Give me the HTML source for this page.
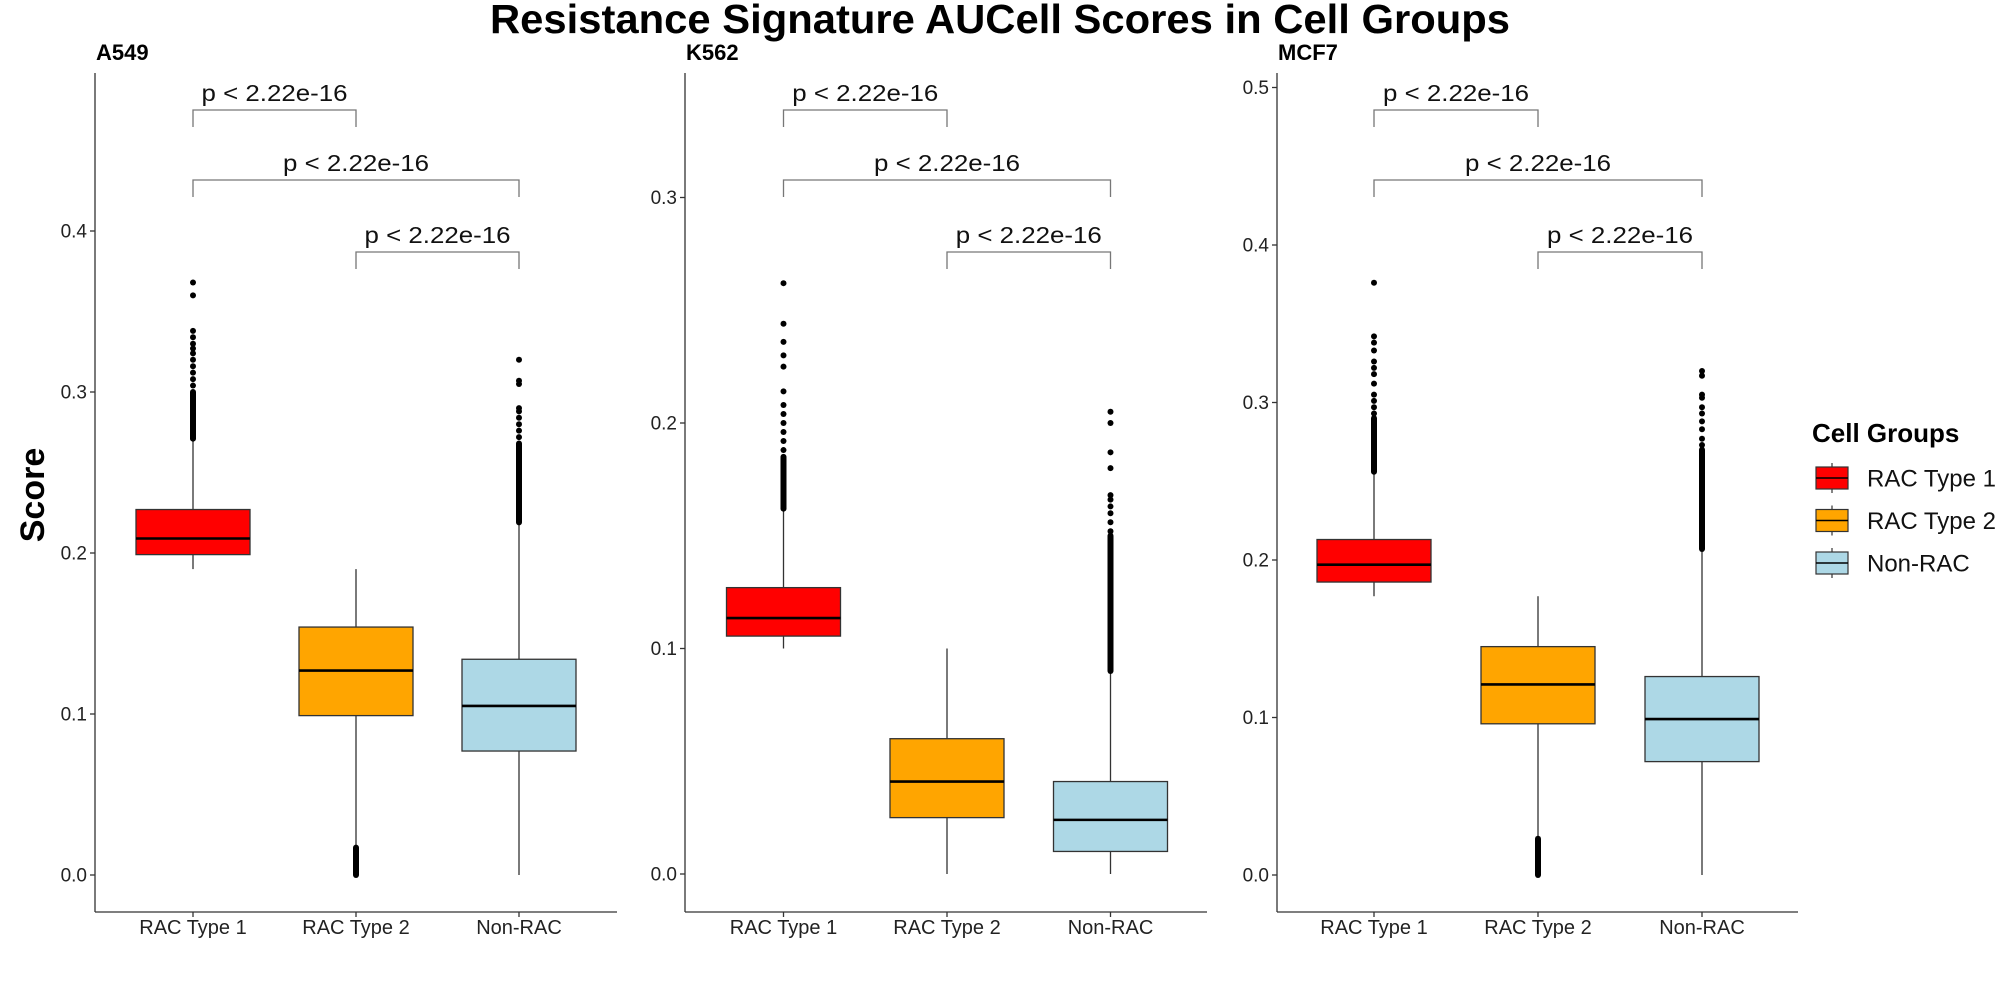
<!DOCTYPE html>
<html><head><meta charset="utf-8">
<style>
html,body{margin:0;padding:0;background:#fff;}
svg{display:block;font-family:"Liberation Sans",Arial,sans-serif;}
</style></head>
<body>
<svg id="chart" width="2000" height="1000" viewBox="0 0 2000 1000" xmlns="http://www.w3.org/2000/svg">
<text x="1000" y="33" text-anchor="middle" font-size="41" font-weight="bold" fill="#000" textLength="1020" lengthAdjust="spacingAndGlyphs">Resistance Signature AUCell Scores in Cell Groups</text>
<text transform="translate(44,495) rotate(-90)" text-anchor="middle" font-size="34" font-weight="bold" fill="#000">Score</text>
<g id="panels"></g>
<g>
<text x="1812" y="442" font-size="26" font-weight="bold" fill="#000">Cell Groups</text>
<g id="legend-entries"></g>
</g>
</svg>
<script>
const categories = ["RAC Type 1", "RAC Type 2", "Non-RAC"];
const colors = ["#FF0000", "#FFA500", "#ADD8E6"];
const panelNames = ["A549", "K562", "MCF7"];
// [lowWhisker, Q1, median, Q3, highWhisker] per category
const a549Stats = [[0.190,0.199,0.209,0.227,0.270],[0.018,0.099,0.127,0.154,0.190],[0.000,0.077,0.105,0.134,0.218]];
const k562Stats = [[0.100,0.1055,0.1135,0.127,0.161],[0.000,0.025,0.041,0.060,0.100],[0.000,0.010,0.024,0.041,0.089]];
const mcf7Stats = [[0.177,0.186,0.197,0.213,0.255],[0.023,0.096,0.121,0.145,0.177],[0.000,0.072,0.099,0.126,0.206]];
// outlier ranges [from, to] (dense) and sparse extra points
const a549Dense = [[0.271,0.300],[0.000,0.017],[0.219,0.268]];
const a549Sparse = [[0.304,0.308,0.312,0.316,0.320,0.324,0.327,0.330,0.334,0.338,0.360,0.368],[],[0.272,0.276,0.280,0.284,0.288,0.290,0.305,0.307,0.320]];
const k562Dense = [[0.162,0.185],[],[0.090,0.150]];
const k562Sparse = [[0.188,0.192,0.196,0.200,0.204,0.208,0.214,0.225,0.230,0.236,0.244,0.262],[],[0.152,0.156,0.160,0.163,0.166,0.168,0.180,0.187,0.200,0.205]];
const mcf7Dense = [[0.256,0.290],[0.000,0.023],[0.207,0.270]];
const mcf7Sparse = [[0.293,0.297,0.301,0.305,0.312,0.318,0.322,0.326,0.333,0.338,0.342,0.376],[],[0.273,0.277,0.283,0.288,0.293,0.297,0.303,0.305,0.317,0.320]];
const a549Ticks = [0.0,0.1,0.2,0.3,0.4];
const k562Ticks = [0.0,0.1,0.2,0.3];
const mcf7Ticks = [0.0,0.1,0.2,0.3,0.4,0.5];
const pLabels = ["p < 2.22e-16","p < 2.22e-16","p < 2.22e-16"];
const bracketPairs = [[0,1],[0,2],[1,2]];

const NS = "http://www.w3.org/2000/svg";
function mk(tag, attrs, parent){const e=document.createElementNS(NS,tag);for(const k in attrs)e.setAttribute(k,attrs[k]);parent.appendChild(e);return e;}

const layouts = [
  {x0:95, x1:617, cats:[193,356,519], y0:875, per:161, ticks:a549Ticks, stats:a549Stats, dense:a549Dense, sparse:a549Sparse},
  {x0:685, x1:1207, cats:[783.5,947,1110.5], y0:874, per:225.5, ticks:k562Ticks, stats:k562Stats, dense:k562Dense, sparse:k562Sparse},
  {x0:1277, x1:1798, cats:[1374,1538,1702], y0:875, per:157.5, ticks:mcf7Ticks, stats:mcf7Stats, dense:mcf7Dense, sparse:mcf7Sparse}
];
const panelsG = document.getElementById("panels");
const boxW = 114, plotTop = 73, plotBottom = 912;
layouts.forEach((L, pi) => {
  const yS = v => L.y0 - v * L.per * 10;
  const g = mk("g", {}, panelsG);
  
  
  const t = mk("text", {x:L.x0+1, y:60, "font-size":22, "font-weight":"bold", fill:"#000"}, g);
  t.textContent = panelNames[pi];
  
  
  const ya = mk("line", {x1:L.x0, y1:plotTop, x2:L.x0, y2:plotBottom, stroke:"#333", "stroke-width":1.3}, g);
  
  
  const xaLine = mk("line", {x1:L.x0, y1:plotBottom, x2:L.x1, y2:plotBottom, stroke:"#333", "stroke-width":1.3}, g);
  
  
  L.ticks.forEach(tv => {
    const y = yS(tv);
    const tk = mk("line", {x1:L.x0-5, y1:y, x2:L.x0, y2:y, stroke:"#333", "stroke-width":1.3}, g);
    
    
    const tl = mk("text", {x:L.x0-8, y:y+6.5, "text-anchor":"end", "font-size":19, fill:"#222"}, g);
    tl.textContent = tv.toFixed(1);
    
    
  });
  categories.forEach((c, ci) => {
    const cx = L.cats[ci];
    const tk = mk("line", {x1:cx, y1:plotBottom, x2:cx, y2:plotBottom+5, stroke:"#333", "stroke-width":1.3}, g);
    
    
    const tl = mk("text", {x:cx, y:934, "text-anchor":"middle", "font-size":20, fill:"#222"}, g);
    tl.textContent = c;
    
    
    const s = L.stats[ci];
    const bg = mk("g", {}, g);
    
    
    mk("line", {x1:cx, y1:yS(s[0]), x2:cx, y2:yS(s[1]), stroke:"#333", "stroke-width":1.3}, bg);
    mk("line", {x1:cx, y1:yS(s[3]), x2:cx, y2:yS(s[4]), stroke:"#333", "stroke-width":1.3}, bg);
    mk("rect", {x:cx-boxW/2, y:yS(s[3]), width:boxW, height:yS(s[1])-yS(s[3]), fill:colors[ci], stroke:"#333", "stroke-width":1.3}, bg);
    mk("line", {x1:cx-boxW/2, y1:yS(s[2]), x2:cx+boxW/2, y2:yS(s[2]), stroke:"#000", "stroke-width":2.6}, bg);
    const d = L.dense[ci];
    if (d.length) {
      mk("rect", {x:cx-3, y:yS(d[1])-3, width:6, height:yS(d[0])-yS(d[1])+6, rx:3, fill:"#000"}, bg);
    }
    L.sparse[ci].forEach(v => {
      const pt = mk("circle", {cx:cx, cy:yS(v), r:3, fill:"#000"}, bg);
      
      
    });
  });
  const brY = [110, 180, 252];
  bracketPairs.forEach((bp, bi) => {
    const xa1 = L.cats[bp[0]], xb = L.cats[bp[1]], y = brY[bi];
    const p = mk("path", {d:`M${xa1},${y+17} V${y} H${xb} V${y+17}`, fill:"none", stroke:"#777", "stroke-width":1.3}, g);
    
    
    const tx = mk("text", {x:(xa1+xb)/2, y:y-9, "text-anchor":"middle", "font-size":23, fill:"#111", textLength:146, lengthAdjust:"spacingAndGlyphs"}, g);
    tx.textContent = pLabels[bi];
    
    
  });
});
const le = document.getElementById("legend-entries");
categories.forEach((c, i) => {
  const y = 478 + i * 42.5;
  const g = mk("g", {}, le);
  
  
  mk("line", {x1:1832, y1:y-15, x2:1832, y2:y+15, stroke:"#333", "stroke-width":1.2}, g);
  mk("rect", {x:1816, y:y-11, width:32, height:22, fill:colors[i], stroke:"#333", "stroke-width":1.2}, g);
  mk("line", {x1:1816, y1:y, x2:1848, y2:y, stroke:"#000", "stroke-width":1.6}, g);
  const t = mk("text", {x:1867, y:y+8.5, "font-size":24, fill:"#111"}, g);
  t.textContent = c;
});
</script>
</body></html>
